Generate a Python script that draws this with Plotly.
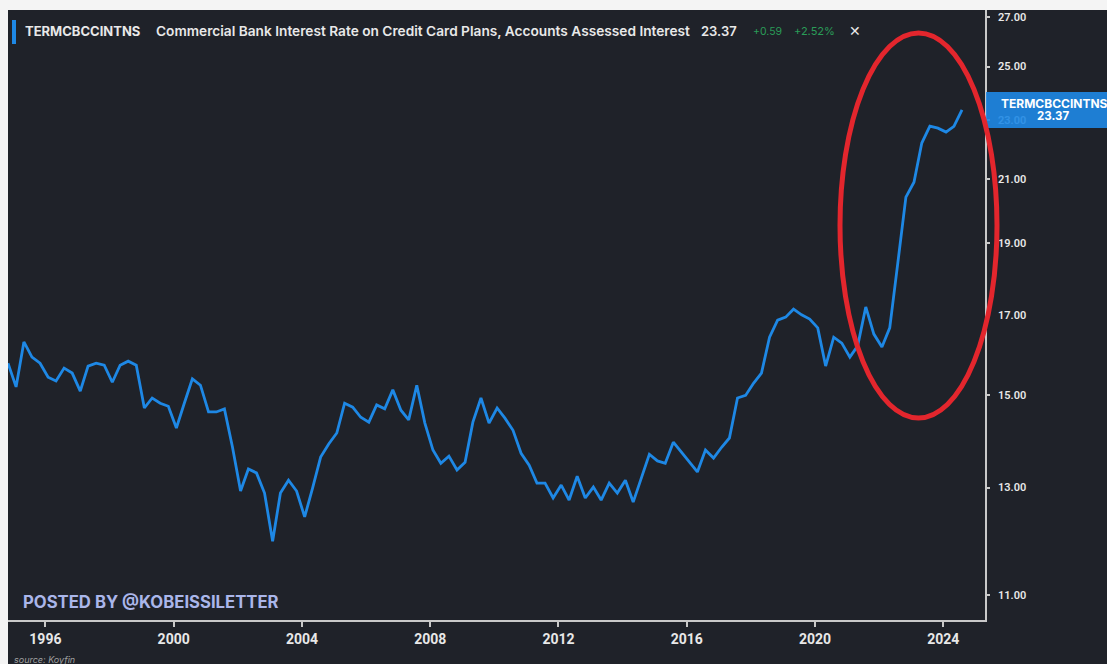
import pandas as pd
import plotly.graph_objects as go

# ---- data -------------------------------------------------------------
SERIES_NAME = "TERMCBCCINTNS"
SERIES_TITLE = "Commercial Bank Interest Rate on Credit Card Plans, Accounts Assessed Interest"
FIRST_OBS = "1994-11-01"

rates = [
    15.77, 15.20, 16.30, 15.92, 15.77, 15.43, 15.34, 15.65, 15.53, 15.10,
    15.70, 15.77, 15.72, 15.31, 15.72, 15.82, 15.72, 14.71, 14.94, 14.82,
    14.75, 14.26, 14.82, 15.39, 15.24, 14.62, 14.62, 14.69, 13.84, 12.93,
    13.38, 13.30, 12.89, 11.96, 12.89, 13.15, 12.93, 12.42, 12.99, 13.63,
    13.91, 14.15, 14.82, 14.73, 14.50, 14.39, 14.78, 14.69, 15.13, 14.66,
    14.44, 15.24, 14.37, 13.78, 13.50, 13.65, 13.36, 13.52, 14.39, 14.94,
    14.37, 14.71, 14.48, 14.21, 13.71, 13.46, 13.09, 13.09, 12.79, 13.05,
    12.75, 13.23, 12.79, 13.01, 12.75, 13.09, 12.89, 13.15, 12.71, 13.21,
    13.69, 13.55, 13.50, 13.95, 13.74, 13.52, 13.32, 13.78, 13.61, 13.84,
    14.04, 14.94, 15.00, 15.29, 15.53, 16.42, 16.86, 16.94, 17.15, 17.00,
    16.89, 16.66, 15.70, 16.42, 16.27, 15.92, 16.20, 17.21, 16.50, 16.17,
    16.66, 18.43, 20.41, 20.89, 22.20, 22.79, 22.72, 22.58, 22.78, 23.37,
]
dates = pd.date_range(start=FIRST_OBS, periods=len(rates), freq="3MS")

x_tick_years = [1996, 2000, 2004, 2008, 2012, 2016, 2020, 2024]
y_tick_vals = [11, 13, 15, 17, 19, 21, 23, 25, 27]

last_value = "23.37"
change_abs = "+0.59"
change_pct = "+2.52%"

# ---- layout geometry (pixels) -----------------------------------------
W, H = 1107, 664
L, R, T, B = 8, 122, 10, 44
PW, PH = W - L - R, H - T - B


def px(xp):
    return (xp - L) / PW


def py(yp):
    return (H - B - yp) / PH


BG = "#1f2229"
BLUE = "#1e88e5"
AXIS = "#c9c9c9"
TXT = "#e8e8e8"
GREEN = "#2a9d58"
FONT = "Inter"

fig = go.Figure()
fig.add_trace(go.Scatter(
    x=dates, y=rates, mode="lines",
    line=dict(color=BLUE, width=2.8),
    hoverinfo="skip", showlegend=False,
))

shapes = [
    # white screenshot border (top / left)
    dict(type="rect", xref="paper", yref="paper", x0=px(0), x1=px(W), y0=py(T), y1=py(0),
         fillcolor="#f4f4f4", line=dict(width=0), layer="above"),
    dict(type="rect", xref="paper", yref="paper", x0=px(0), x1=px(L), y0=py(H), y1=py(0),
         fillcolor="#f4f4f4", line=dict(width=0), layer="above"),
    # blue marker in the header
    dict(type="rect", xref="paper", yref="paper", x0=px(12), x1=px(16), y0=py(44), y1=py(20),
         fillcolor=BLUE, line=dict(width=0), layer="above"),
    # last value label box on right axis
    dict(type="rect", xref="paper", yref="paper", x0=px(986), x1=px(W), y0=py(128), y1=py(92),
         fillcolor="rgba(30,136,229,0.90)", line=dict(width=0), layer="above"),
    # red ellipse highlight
    dict(type="circle", xref="paper", yref="paper", x0=px(840), x1=px(997), y0=py(418), y1=py(33),
         line=dict(color="#e3262d", width=5), fillcolor="rgba(0,0,0,0)", layer="above"),
]

annotations = [
    dict(text=SERIES_NAME, x=px(23), y=py(31), font=dict(size=13, color=TXT, family=FONT, weight=700)),
    dict(text=SERIES_TITLE, x=px(154), y=py(31), font=dict(size=13.7, color=TXT, family=FONT, weight=600)),
    dict(text=last_value, x=px(699), y=py(31), font=dict(size=13, color=TXT, family=FONT, weight=600)),
    dict(text=change_abs, x=px(751), y=py(31), font=dict(size=10.5, color=GREEN, family=FONT)),
    dict(text=change_pct, x=px(792), y=py(31), font=dict(size=11, color=GREEN, family=FONT)),
    dict(text="\u2715", x=px(847), y=py(31), font=dict(size=14, color=TXT, family="DejaVu Sans")),
    dict(text="POSTED BY @KOBEISSILETTER", x=px(21), y=py(602),
         font=dict(size=16.7, color="#aab6ea", family=FONT, weight=700)),
    dict(text="<i>source: Koyfin</i>", x=px(12), y=py(659), font=dict(size=9, color="#a0a0a0", family=FONT)),
    dict(text=SERIES_NAME, x=px(999), y=py(103), xanchor="left",
         font=dict(size=12, color="#ffffff", family=FONT, weight=700)),
    dict(text=last_value, x=px(1053), y=py(116), xanchor="center",
         font=dict(size=11.5, color="#ffffff", family=FONT, weight=700)),
]
for a in annotations:
    a.setdefault("xanchor", "left")
    a.update(xref="paper", yref="paper", yanchor="middle", showarrow=False)

fig.update_layout(
    width=W, height=H, autosize=False,
    margin=dict(l=L, r=R, t=T, b=B, pad=0),
    paper_bgcolor=BG, plot_bgcolor=BG,
    shapes=shapes, annotations=annotations,
    showlegend=False,
    xaxis=dict(
        type="date",
        range=["1994-11-01", "2025-04-20"],
        tickvals=[f"{y}-01-01" for y in x_tick_years],
        ticktext=[str(y) for y in x_tick_years],
        showgrid=False, zeroline=False,
        showline=True, linecolor=AXIS, linewidth=1.5,
        ticks="outside", ticklen=5, tickcolor=AXIS, tickwidth=1.5,
        tickfont=dict(size=14, color=TXT, family="Roboto", weight=700),
    ),
    yaxis=dict(
        type="log", side="right",
        range=[1.0246, 1.4361],
        tickvals=y_tick_vals,
        ticktext=[f"{v:.2f}" for v in y_tick_vals],
        showgrid=False, zeroline=False,
        showline=True, linecolor=AXIS, linewidth=1.5,
        ticks="outside", ticklen=3, tickcolor=AXIS, tickwidth=1.5,
        ticklabelstandoff=6,
        tickfont=dict(size=11, color=TXT, family="Roboto", weight=600),
    ),
)

fig.write_html("out.html")
